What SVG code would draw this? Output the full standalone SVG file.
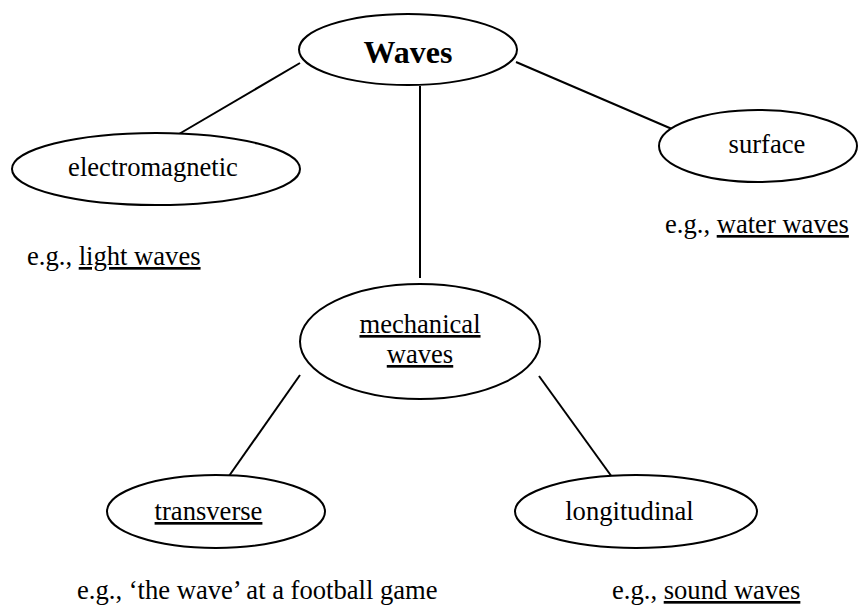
<svg xmlns="http://www.w3.org/2000/svg" width="864" height="606" viewBox="0 0 864 606">
<style>
.n{fill:#fff;stroke:#000;stroke-width:2}
.c line{stroke:#000;stroke-width:2}
text{font-family:"Liberation Serif","Times New Roman",serif;font-size:26.6px;fill:#000}
.m{text-anchor:middle}
.u{text-decoration:underline}
</style>
<rect width="864" height="606" fill="#fff"/>
<g id="connectors" class="c">
<line x1="300" y1="63" x2="179" y2="134"/>
<line x1="516" y1="62" x2="672" y2="129"/>
<line x1="420" y1="86" x2="420" y2="278"/>
<line x1="300" y1="375" x2="229" y2="476"/>
<line x1="539" y1="376" x2="612" y2="477"/>
</g>
<g id="waves">
<ellipse class="n" cx="408" cy="49.5" rx="109" ry="35.5"/>
<text class="m" x="408" y="63" style="font-weight:bold;font-size:32px">Waves</text>
</g>
<g id="electromagnetic">
<ellipse class="n" cx="156" cy="169" rx="144" ry="36"/>
<text class="m" x="153" y="176">electromagnetic</text>
</g>
<g id="surface">
<ellipse class="n" cx="758" cy="146" rx="99" ry="36"/>
<text class="m" x="767" y="153">surface</text>
</g>
<g id="mechanical">
<ellipse class="n" cx="420" cy="341.5" rx="120" ry="57.5"/>
<text class="m u" x="420" y="333">mechanical</text>
<text class="m u" x="420" y="363">waves</text>
</g>
<g id="transverse">
<ellipse class="n" cx="216" cy="511.5" rx="109" ry="36.5"/>
<text class="m u" x="208.5" y="520">transverse</text>
</g>
<g id="longitudinal">
<ellipse class="n" cx="636" cy="511.5" rx="121" ry="36.5"/>
<text class="m" x="629.5" y="520">longitudinal</text>
</g>
<g id="examples">
<text x="27" y="265">e.g., <tspan class="u">light waves</tspan></text>
<text x="665" y="233">e.g., <tspan class="u">water waves</tspan></text>
<text x="77" y="599">e.g., ‘the wave’ at a football game</text>
<text x="612" y="599">e.g., <tspan class="u">sound waves</tspan></text>
</g>
</svg>
